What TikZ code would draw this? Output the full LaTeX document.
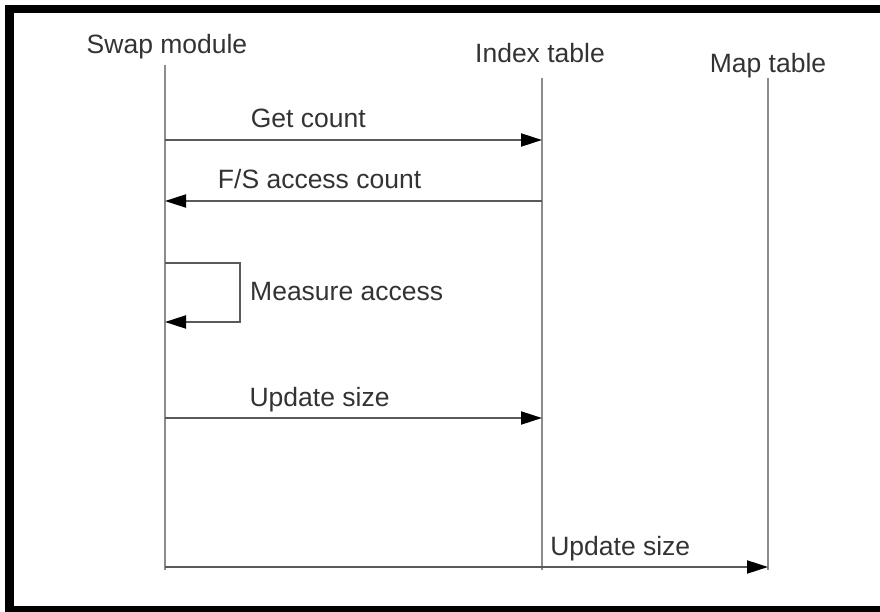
\documentclass[tikz,border=0pt]{standalone}
\usepackage{fontspec}
\setmainfont{Liberation Sans}
\usetikzlibrary{arrows.meta}
\tikzstyle{actor}=[font=\fontsize{26.5}{30}\selectfont,text=black!80,inner sep=0pt]
\tikzstyle{lifeline}=[draw=black!45,line width=2pt]
\tikzstyle{msg}=[draw=black!65,line width=2pt,-{Triangle[length=21pt,width=13pt,color=black]}]
\tikzstyle{msglabel}=[font=\fontsize{26.5}{30}\selectfont,text=black!80,inner sep=0pt,anchor=base,yshift=12pt]

\begin{document}
\begin{tikzpicture}[x=1pt,y=-1pt]
\useasboundingbox (0,0) rectangle (880,612);
\draw[line width=8.5pt] (9.5,9) rectangle (900,610);
% actors
\node[actor] at (167,47) (swap) {Swap module};
\node[actor] at (540,53) (index) {Index table};
\node[actor] at (768,66) (map) {Map table};
\coordinate (swap top) at (165,65);
\coordinate (swap bot) at (165,570);
\coordinate (index top) at (542,78);
\coordinate (index bot) at (542,570);
\coordinate (map top) at (768,78);
\coordinate (map bot) at (768,570);
\draw[lifeline] (swap top) -- (swap bot);
\draw[lifeline] (index top) -- (index bot);
\draw[lifeline] (map top) -- (map bot);
% messages
\coordinate (s1) at (165,140);
\coordinate (i1) at (542,140);
\coordinate (s2) at (165,201);
\coordinate (i2) at (542,201);
\coordinate (l1) at (165,263);
\coordinate (l2) at (240,263);
\coordinate (l3) at (240,322);
\coordinate (l4) at (165,322);
\coordinate (s3) at (165,418);
\coordinate (i3) at (542,418);
\coordinate (s4) at (165,567);
\coordinate (m4) at (768,567);
\draw[msg] (s1) -- node[msglabel,pos=0.38] (getcount) {Get count} (i1);
\draw[msg] (i2) -- node[msglabel,pos=0.59] (fscount) {F/S access count} (s2);
\draw[msg] (l1) -- (l2) -- (l3) -- (l4);
\node[actor,anchor=west] at (250,292) (measure) {Measure access};
\draw[msg] (s3) -- node[msglabel,pos=0.41] (update1) {Update size} (i3);
\draw[msg] (s4) -- node[msglabel,pos=0.755] (update2) {Update size} (m4);
\end{tikzpicture}
\end{document}
